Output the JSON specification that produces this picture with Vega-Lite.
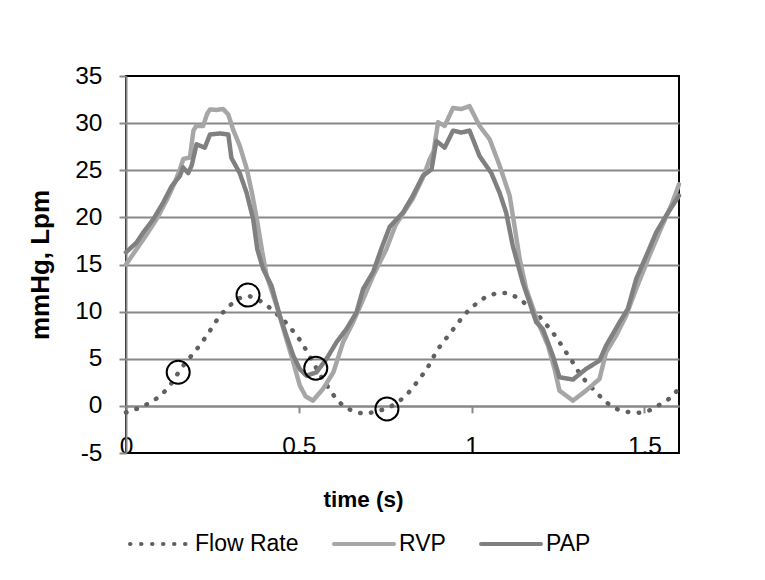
{
  "$schema": "https://vega.github.io/schema/vega-lite/v6.json",
  "width": 553,
  "height": 377,
  "autosize": "none",
  "padding": {"left": 126, "top": 76, "right": 86, "bottom": 127},
  "background": "white",
  "config": {
    "font": "Liberation Sans",
    "view": {"stroke": "black", "strokeWidth": 2},
    "legend": {"padding": 0}
  },
  "datasets": {
    "series": [
      {"series": "Flow Rate", "t": 0.0, "v": -0.7},
      {"series": "Flow Rate", "t": 0.036, "v": -0.25},
      {"series": "Flow Rate", "t": 0.067, "v": 0.28},
      {"series": "Flow Rate", "t": 0.096, "v": 0.95},
      {"series": "Flow Rate", "t": 0.122, "v": 1.9},
      {"series": "Flow Rate", "t": 0.14, "v": 2.85},
      {"series": "Flow Rate", "t": 0.156, "v": 3.8},
      {"series": "Flow Rate", "t": 0.177, "v": 4.8},
      {"series": "Flow Rate", "t": 0.199, "v": 5.75},
      {"series": "Flow Rate", "t": 0.221, "v": 6.8},
      {"series": "Flow Rate", "t": 0.24, "v": 7.8},
      {"series": "Flow Rate", "t": 0.257, "v": 8.8},
      {"series": "Flow Rate", "t": 0.275, "v": 9.7},
      {"series": "Flow Rate", "t": 0.299, "v": 10.6},
      {"series": "Flow Rate", "t": 0.322, "v": 11.35},
      {"series": "Flow Rate", "t": 0.353, "v": 11.7},
      {"series": "Flow Rate", "t": 0.382, "v": 11.3},
      {"series": "Flow Rate", "t": 0.411, "v": 10.56},
      {"series": "Flow Rate", "t": 0.436, "v": 9.75},
      {"series": "Flow Rate", "t": 0.46, "v": 8.93},
      {"series": "Flow Rate", "t": 0.482, "v": 8.0},
      {"series": "Flow Rate", "t": 0.503, "v": 7.0},
      {"series": "Flow Rate", "t": 0.52, "v": 6.0},
      {"series": "Flow Rate", "t": 0.537, "v": 4.9},
      {"series": "Flow Rate", "t": 0.553, "v": 3.85},
      {"series": "Flow Rate", "t": 0.57, "v": 2.75},
      {"series": "Flow Rate", "t": 0.59, "v": 1.7},
      {"series": "Flow Rate", "t": 0.607, "v": 0.8},
      {"series": "Flow Rate", "t": 0.631, "v": -0.1},
      {"series": "Flow Rate", "t": 0.662, "v": -0.65},
      {"series": "Flow Rate", "t": 0.693, "v": -0.85},
      {"series": "Flow Rate", "t": 0.724, "v": -0.6},
      {"series": "Flow Rate", "t": 0.758, "v": -0.25},
      {"series": "Flow Rate", "t": 0.787, "v": 0.39},
      {"series": "Flow Rate", "t": 0.812, "v": 1.15},
      {"series": "Flow Rate", "t": 0.832, "v": 2.05},
      {"series": "Flow Rate", "t": 0.852, "v": 3.0},
      {"series": "Flow Rate", "t": 0.872, "v": 4.0},
      {"series": "Flow Rate", "t": 0.888, "v": 5.1},
      {"series": "Flow Rate", "t": 0.905, "v": 6.15},
      {"series": "Flow Rate", "t": 0.925, "v": 7.1},
      {"series": "Flow Rate", "t": 0.946, "v": 8.1},
      {"series": "Flow Rate", "t": 0.967, "v": 9.1},
      {"series": "Flow Rate", "t": 0.989, "v": 10.05},
      {"series": "Flow Rate", "t": 1.015, "v": 10.9},
      {"series": "Flow Rate", "t": 1.042, "v": 11.6},
      {"series": "Flow Rate", "t": 1.073, "v": 11.97},
      {"series": "Flow Rate", "t": 1.105, "v": 11.97},
      {"series": "Flow Rate", "t": 1.137, "v": 11.4},
      {"series": "Flow Rate", "t": 1.163, "v": 10.6},
      {"series": "Flow Rate", "t": 1.189, "v": 9.75},
      {"series": "Flow Rate", "t": 1.211, "v": 8.86},
      {"series": "Flow Rate", "t": 1.233, "v": 7.87},
      {"series": "Flow Rate", "t": 1.252, "v": 6.9},
      {"series": "Flow Rate", "t": 1.27, "v": 5.86},
      {"series": "Flow Rate", "t": 1.289, "v": 4.85},
      {"series": "Flow Rate", "t": 1.306, "v": 3.8},
      {"series": "Flow Rate", "t": 1.326, "v": 2.8},
      {"series": "Flow Rate", "t": 1.349, "v": 1.87},
      {"series": "Flow Rate", "t": 1.372, "v": 1.0},
      {"series": "Flow Rate", "t": 1.396, "v": 0.2},
      {"series": "Flow Rate", "t": 1.423, "v": -0.39},
      {"series": "Flow Rate", "t": 1.455, "v": -0.67},
      {"series": "Flow Rate", "t": 1.49, "v": -0.74},
      {"series": "Flow Rate", "t": 1.522, "v": -0.39},
      {"series": "Flow Rate", "t": 1.551, "v": 0.3},
      {"series": "Flow Rate", "t": 1.578, "v": 0.9},
      {"series": "Flow Rate", "t": 1.6, "v": 1.87},

      {"series": "RVP", "t": 0.0, "v": 15.0},
      {"series": "RVP", "t": 0.03, "v": 16.6},
      {"series": "RVP", "t": 0.06, "v": 18.2},
      {"series": "RVP", "t": 0.09, "v": 19.9},
      {"series": "RVP", "t": 0.12, "v": 22.0},
      {"series": "RVP", "t": 0.14, "v": 23.6},
      {"series": "RVP", "t": 0.155, "v": 25.0},
      {"series": "RVP", "t": 0.166, "v": 26.2},
      {"series": "RVP", "t": 0.185, "v": 26.35},
      {"series": "RVP", "t": 0.195, "v": 29.2},
      {"series": "RVP", "t": 0.203, "v": 29.7},
      {"series": "RVP", "t": 0.223, "v": 29.7},
      {"series": "RVP", "t": 0.235, "v": 31.0},
      {"series": "RVP", "t": 0.243, "v": 31.45},
      {"series": "RVP", "t": 0.262, "v": 31.4},
      {"series": "RVP", "t": 0.281, "v": 31.5},
      {"series": "RVP", "t": 0.296, "v": 30.9},
      {"series": "RVP", "t": 0.31, "v": 29.3},
      {"series": "RVP", "t": 0.329, "v": 27.6},
      {"series": "RVP", "t": 0.349, "v": 25.2},
      {"series": "RVP", "t": 0.365, "v": 22.5},
      {"series": "RVP", "t": 0.38, "v": 19.5},
      {"series": "RVP", "t": 0.394, "v": 16.4},
      {"series": "RVP", "t": 0.407, "v": 13.8},
      {"series": "RVP", "t": 0.436, "v": 10.6},
      {"series": "RVP", "t": 0.464, "v": 7.1},
      {"series": "RVP", "t": 0.484, "v": 4.63},
      {"series": "RVP", "t": 0.503, "v": 2.15},
      {"series": "RVP", "t": 0.52, "v": 1.0},
      {"series": "RVP", "t": 0.541, "v": 0.56},
      {"series": "RVP", "t": 0.57, "v": 1.8},
      {"series": "RVP", "t": 0.6, "v": 3.56},
      {"series": "RVP", "t": 0.628, "v": 6.75},
      {"series": "RVP", "t": 0.657, "v": 8.87},
      {"series": "RVP", "t": 0.686, "v": 11.3},
      {"series": "RVP", "t": 0.715, "v": 13.8},
      {"series": "RVP", "t": 0.753, "v": 16.6},
      {"series": "RVP", "t": 0.78, "v": 19.2},
      {"series": "RVP", "t": 0.8, "v": 20.3},
      {"series": "RVP", "t": 0.83, "v": 22.0},
      {"series": "RVP", "t": 0.86, "v": 24.3},
      {"series": "RVP", "t": 0.879, "v": 26.2},
      {"series": "RVP", "t": 0.89, "v": 27.0},
      {"series": "RVP", "t": 0.903, "v": 30.1},
      {"series": "RVP", "t": 0.922, "v": 29.7},
      {"series": "RVP", "t": 0.946, "v": 31.6},
      {"series": "RVP", "t": 0.97, "v": 31.5},
      {"series": "RVP", "t": 0.994, "v": 31.8},
      {"series": "RVP", "t": 1.023, "v": 29.7},
      {"series": "RVP", "t": 1.052, "v": 28.3},
      {"series": "RVP", "t": 1.081, "v": 25.5},
      {"series": "RVP", "t": 1.11, "v": 22.3},
      {"series": "RVP", "t": 1.124, "v": 19.1},
      {"series": "RVP", "t": 1.139, "v": 15.6},
      {"series": "RVP", "t": 1.158, "v": 12.4},
      {"series": "RVP", "t": 1.192, "v": 8.87},
      {"series": "RVP", "t": 1.221, "v": 6.39},
      {"series": "RVP", "t": 1.24, "v": 3.92},
      {"series": "RVP", "t": 1.254, "v": 1.62},
      {"series": "RVP", "t": 1.293, "v": 0.56},
      {"series": "RVP", "t": 1.331, "v": 1.62},
      {"series": "RVP", "t": 1.37, "v": 2.86},
      {"series": "RVP", "t": 1.389, "v": 5.68},
      {"series": "RVP", "t": 1.418, "v": 7.45},
      {"series": "RVP", "t": 1.447, "v": 9.57},
      {"series": "RVP", "t": 1.476, "v": 12.4},
      {"series": "RVP", "t": 1.514, "v": 15.9},
      {"series": "RVP", "t": 1.55, "v": 19.0},
      {"series": "RVP", "t": 1.58, "v": 21.5},
      {"series": "RVP", "t": 1.6, "v": 23.5},

      {"series": "PAP", "t": 0.0, "v": 16.3},
      {"series": "PAP", "t": 0.03, "v": 17.3},
      {"series": "PAP", "t": 0.05, "v": 18.4},
      {"series": "PAP", "t": 0.079, "v": 19.8},
      {"series": "PAP", "t": 0.108, "v": 21.6},
      {"series": "PAP", "t": 0.132, "v": 23.3},
      {"series": "PAP", "t": 0.156, "v": 24.4},
      {"series": "PAP", "t": 0.165, "v": 25.3},
      {"series": "PAP", "t": 0.18, "v": 24.7},
      {"series": "PAP", "t": 0.19, "v": 25.5},
      {"series": "PAP", "t": 0.204, "v": 27.75},
      {"series": "PAP", "t": 0.228, "v": 27.4},
      {"series": "PAP", "t": 0.243, "v": 28.8},
      {"series": "PAP", "t": 0.272, "v": 28.9},
      {"series": "PAP", "t": 0.296, "v": 28.8},
      {"series": "PAP", "t": 0.305, "v": 26.3},
      {"series": "PAP", "t": 0.329, "v": 24.7},
      {"series": "PAP", "t": 0.349, "v": 22.6},
      {"series": "PAP", "t": 0.368, "v": 19.8},
      {"series": "PAP", "t": 0.38, "v": 16.6},
      {"series": "PAP", "t": 0.397, "v": 14.5},
      {"series": "PAP", "t": 0.421, "v": 12.75},
      {"series": "PAP", "t": 0.445, "v": 9.57},
      {"series": "PAP", "t": 0.464, "v": 7.45},
      {"series": "PAP", "t": 0.484, "v": 5.33},
      {"series": "PAP", "t": 0.503, "v": 3.9},
      {"series": "PAP", "t": 0.522, "v": 3.2},
      {"series": "PAP", "t": 0.551, "v": 3.56},
      {"series": "PAP", "t": 0.58, "v": 4.98},
      {"series": "PAP", "t": 0.609, "v": 6.75},
      {"series": "PAP", "t": 0.638, "v": 8.16},
      {"series": "PAP", "t": 0.667, "v": 9.93},
      {"series": "PAP", "t": 0.686, "v": 12.4},
      {"series": "PAP", "t": 0.715, "v": 14.2},
      {"series": "PAP", "t": 0.74, "v": 16.8},
      {"series": "PAP", "t": 0.763, "v": 19.0},
      {"series": "PAP", "t": 0.801, "v": 20.5},
      {"series": "PAP", "t": 0.83, "v": 22.3},
      {"series": "PAP", "t": 0.859, "v": 24.4},
      {"series": "PAP", "t": 0.884, "v": 25.1},
      {"series": "PAP", "t": 0.898, "v": 28.1},
      {"series": "PAP", "t": 0.922, "v": 27.4},
      {"series": "PAP", "t": 0.946, "v": 29.2},
      {"series": "PAP", "t": 0.97, "v": 29.0},
      {"series": "PAP", "t": 0.994, "v": 29.2},
      {"series": "PAP", "t": 1.023, "v": 26.5},
      {"series": "PAP", "t": 1.057, "v": 24.7},
      {"series": "PAP", "t": 1.081, "v": 22.6},
      {"series": "PAP", "t": 1.1, "v": 20.5},
      {"series": "PAP", "t": 1.119, "v": 17.0},
      {"series": "PAP", "t": 1.148, "v": 13.1},
      {"series": "PAP", "t": 1.187, "v": 8.87},
      {"series": "PAP", "t": 1.206, "v": 8.16},
      {"series": "PAP", "t": 1.235, "v": 5.33},
      {"series": "PAP", "t": 1.254, "v": 3.04},
      {"series": "PAP", "t": 1.293, "v": 2.79},
      {"series": "PAP", "t": 1.331, "v": 3.92},
      {"series": "PAP", "t": 1.37, "v": 4.8},
      {"series": "PAP", "t": 1.389, "v": 6.39},
      {"series": "PAP", "t": 1.428, "v": 8.87},
      {"series": "PAP", "t": 1.452, "v": 10.3},
      {"series": "PAP", "t": 1.476, "v": 13.45},
      {"series": "PAP", "t": 1.505, "v": 15.9},
      {"series": "PAP", "t": 1.534, "v": 18.4},
      {"series": "PAP", "t": 1.563, "v": 20.2},
      {"series": "PAP", "t": 1.6, "v": 22.3}
    ],
    "circles": [
      {"t": 0.151, "v": 3.57},
      {"t": 0.353, "v": 11.76},
      {"t": 0.549, "v": 4.0},
      {"t": 0.755, "v": -0.32}
    ]
  },
  "layer": [
    {
      "data": {"name": "series"},
      "mark": {"type": "line", "strokeWidth": 4.5, "strokeCap": "round", "strokeJoin": "round"},
      "encoding": {
        "x": {
          "field": "t", "type": "quantitative",
          "scale": {"domain": [0, 1.6], "nice": false, "zero": false},
          "axis": {
            "values": [0, 0.5, 1, 1.5], "format": "~g",
            "offset": -47.125, "grid": false,
            "domainColor": "#888888", "domainWidth": 2,
            "tickColor": "#888888", "tickWidth": 2, "tickSize": 7,
            "labelFontSize": 24.5, "labelColor": "black", "labelPadding": 22, "labelFlush": false,
            "title": "time (s)", "titleFontSize": 22.5, "titleFontWeight": "bold", "titleColor": "black",
            "titleX": 237, "titleY": 101, "titleBaseline": "alphabetic", "titleAlign": "center"
          }
        },
        "y": {
          "field": "v", "type": "quantitative",
          "scale": {"domain": [-5, 35], "nice": false, "zero": false},
          "axis": {
            "values": [-5, 0, 5, 10, 15, 20, 25, 30, 35],
            "labelExpr": "datum.value + ''",
            "domainColor": "#888888", "domainWidth": 2,
            "tickColor": "#888888", "tickWidth": 2, "tickSize": 7,
            "labelFontSize": 24.5, "labelColor": "black", "labelPadding": 17,
            "grid": true, "gridColor": "#888888", "gridWidth": 2,
            "gridOpacity": {"condition": {"test": "datum.value >= 35 || datum.value <= -5", "value": 0}, "value": 1},
            "title": "mmHg, Lpm", "titleFontSize": 26, "titleFontWeight": "bold", "titleColor": "black",
            "titleX": -78, "titleBaseline": "alphabetic", "titleAngle": -90
          }
        },
        "color": {
          "field": "series", "type": "nominal",
          "scale": {"domain": ["Flow Rate", "RVP", "PAP"], "range": ["#606060", "#A6A6A6", "#808080"]},
          "legend": {
            "orient": "none", "legendX": 2, "legendY": 436, "direction": "horizontal", "title": null,
            "symbolType": "stroke", "symbolSize": 3600, "symbolStrokeWidth": 4,
            "labelFontSize": 23, "labelColor": "black", "labelOffset": 3, "columnPadding": 27,
            "encode": {"symbols": {"update": {"strokeCap": {"value": "round"}}}}
          }
        },
        "strokeDash": {
          "field": "series", "type": "nominal",
          "scale": {"domain": ["Flow Rate", "RVP", "PAP"], "range": [[0.5, 10.5], [1, 0], [1, 0]]},
          "legend": {
            "orient": "none", "legendX": 2, "legendY": 436, "direction": "horizontal", "title": null,
            "symbolType": "stroke", "symbolSize": 3600, "symbolStrokeWidth": 4,
            "labelFontSize": 23, "labelColor": "black", "labelOffset": 3, "columnPadding": 27,
            "encode": {"symbols": {"update": {"strokeCap": {"value": "round"}}}}
          }
        }
      }
    },
    {
      "data": {"name": "circles"},
      "mark": {"type": "point", "shape": "circle", "filled": false, "stroke": "black", "strokeWidth": 2, "size": 530, "opacity": 1},
      "encoding": {
        "x": {"field": "t", "type": "quantitative"},
        "y": {"field": "v", "type": "quantitative"}
      }
    }
  ]
}
